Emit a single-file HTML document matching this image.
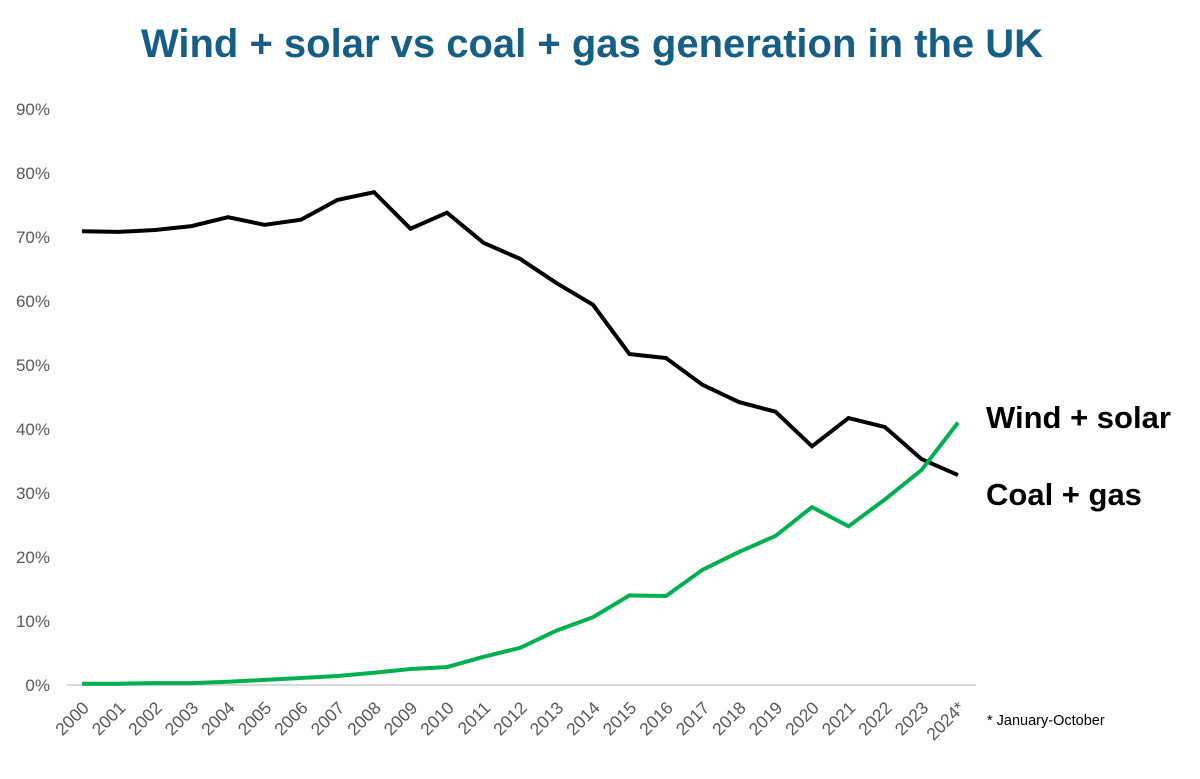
<!DOCTYPE html>
<html><head><meta charset="utf-8"><style>
html,body{margin:0;padding:0;background:#fff;}
svg{display:block;font-family:"Liberation Sans",Arial,sans-serif;}
</style></head><body>
<svg width="1200" height="779" viewBox="0 0 1200 779" id="chart">
<text x="592" y="57" text-anchor="middle" font-size="40" font-weight="bold" fill="#175e84">Wind + solar vs coal + gas generation in the UK</text>
<g id="yaxis"></g>
<g id="xaxis"></g>
<line x1="67" x2="976" y1="685" y2="685" stroke="#d9d9d9" stroke-width="2"/>
<g id="series"></g>
<text x="986" y="428" font-size="31" font-weight="bold" fill="#000">Wind + solar</text>
<text x="986" y="505" font-size="31" font-weight="bold" fill="#000">Coal + gas</text>
<text x="987" y="725" font-size="14.5" fill="#000">* January-October</text>
</svg>
<script>
const years = ["2000","2001","2002","2003","2004","2005","2006","2007","2008","2009","2010","2011","2012","2013","2014","2015","2016","2017","2018","2019","2020","2021","2022","2023","2024*"];
const coalGas = [70.9,70.8,71.1,71.7,73.1,71.9,72.7,75.8,77.0,71.3,73.8,69.1,66.6,62.8,59.4,51.7,51.1,46.9,44.2,42.7,37.3,41.7,40.3,35.3,32.8];
const windSolar = [0.2,0.2,0.3,0.3,0.5,0.8,1.1,1.4,1.9,2.5,2.8,4.4,5.8,8.5,10.6,14.0,13.9,18.0,20.8,23.3,27.8,24.8,29.0,33.6,41.0];
const yTicks = [0,10,20,30,40,50,60,70,80,90];

const NS = "http://www.w3.org/2000/svg";
const x0 = 82, x1 = 958, yBase = 685, pxPerPct = 6.4;
function xScale(i){ return x0 + i * (x1 - x0) / (years.length - 1); }
function yScale(v){ return yBase - v * pxPerPct; }

const yaxis = document.getElementById('yaxis');
yTicks.forEach(t => {
  const el = document.createElementNS(NS, 'text');
  el.setAttribute('x', 50);
  el.setAttribute('y', yScale(t) + 6);
  el.setAttribute('text-anchor', 'end');
  el.setAttribute('font-size', '17');
  el.setAttribute('fill', '#595959');
  el.textContent = t + '%';
  
  
  yaxis.appendChild(el);
});

const xaxis = document.getElementById('xaxis');
years.forEach((yr, i) => {
  const el = document.createElementNS(NS, 'text');
  const x = xScale(i) + 8, y = 709;
  el.setAttribute('x', x);
  el.setAttribute('y', y);
  el.setAttribute('text-anchor', 'end');
  el.setAttribute('font-size', '17.5');
  el.setAttribute('fill', '#595959');
  el.setAttribute('transform', 'rotate(-45 ' + x + ' ' + y + ')');
  el.textContent = yr;
  
  
  xaxis.appendChild(el);
});

const series = document.getElementById('series');
function drawLine(vals, color, name){
  const p = document.createElementNS(NS, 'polyline');
  p.setAttribute('points', vals.map((v, i) => xScale(i).toFixed(1) + ',' + yScale(v).toFixed(1)).join(' '));
  p.setAttribute('fill', 'none');
  p.setAttribute('stroke', color);
  p.setAttribute('stroke-width', '4');
  p.setAttribute('stroke-linejoin', 'miter');
  
  
  series.appendChild(p);
}
drawLine(coalGas, '#000000', 'coal-gas-line');
drawLine(windSolar, '#00b050', 'wind-solar-line');
</script>
</body></html>
